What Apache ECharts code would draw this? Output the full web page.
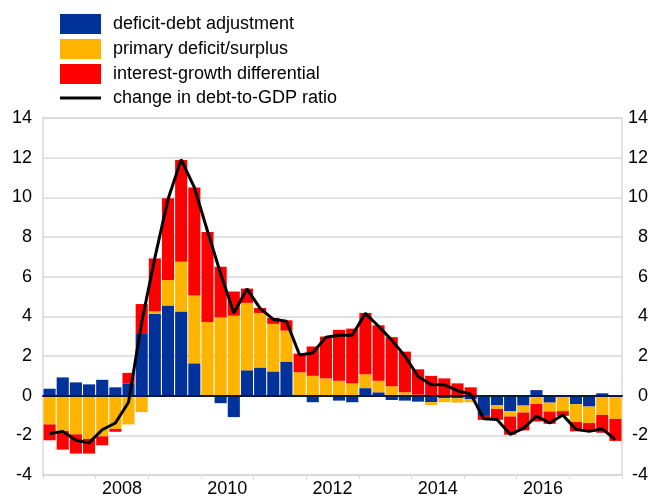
<!DOCTYPE html>
<html>
<head>
<meta charset="utf-8">
<script src="https://cdn.jsdelivr.net/npm/echarts@6/dist/echarts.min.js"></script>
<style>
html,body{margin:0;padding:0;background:#fff;}
#chart{width:661px;height:498px;}
</style>
</head>
<body>
<div id="chart"></div>
<script>
var years = ['2007','2008','2009','2010','2011','2012','2013','2014','2015','2016','2017'];
var seriesNames = ['deficit-debt adjustment','primary deficit/surplus','interest-growth differential','change in debt-to-GDP ratio'];

var deficitDebt = [0.35,0.92,0.67,0.57,0.8,0.42,0.62,3.15,4.13,4.55,4.25,1.63,-0.03,-0.38,-1.08,1.28,1.42,1.22,1.72,0.02,-0.33,-0.05,-0.25,-0.33,0.38,0.17,-0.22,-0.25,-0.3,-0.33,-0.13,-0.13,-0.18,-1.02,-0.47,-0.78,-0.5,0.28,-0.35,-0.05,-0.43,-0.55,0.12,-0.08];
var primary = [-1.45,-1.78,-1.95,-2.18,-2.05,-1.68,-1.45,-0.83,0.12,1.28,2.5,3.42,3.72,3.95,4.03,3.4,2.75,2.4,1.56,1.16,1.0,0.87,0.75,0.62,0.7,0.58,0.47,0.17,0.05,-0.14,-0.2,-0.22,-0.15,0.0,-0.2,-0.27,-0.35,-0.42,-0.45,-0.73,-0.9,-0.83,-0.97,-1.09];
var interestGrowth = [-0.8,-0.94,-0.97,-0.74,-0.45,-0.14,0.53,1.47,2.67,4.12,5.13,5.45,4.53,2.55,1.22,0.72,0.25,0.3,0.52,0.94,1.48,2.11,2.57,2.76,3.09,2.8,2.48,2.05,1.28,1.0,0.87,0.62,0.42,-0.2,-0.55,-0.92,-0.9,-0.88,-0.62,-0.24,-0.47,-0.45,-0.9,-1.11];
var debtChange = [-1.92,-1.8,-2.25,-2.38,-1.72,-1.38,-0.33,3.7,6.95,9.9,11.9,10.5,8.3,6.15,4.17,5.38,4.4,3.85,3.75,2.05,2.15,2.95,3.05,3.05,4.15,3.5,2.8,2.0,0.97,0.55,0.55,0.25,0.08,-1.17,-1.2,-1.95,-1.65,-1.03,-1.38,-0.97,-1.7,-1.8,-1.67,-2.22];

var quarters = [];
years.forEach(function(y){ ['Q1','Q2','Q3','Q4'].forEach(function(q){ quarters.push(y + q); }); });

var FONT = 'Liberation Sans, Arial, sans-serif';
var chart = echarts.init(document.getElementById('chart'), null, {renderer:'canvas'});

function barSeries(name, data, color) {
  return {
    name: name, type: 'bar', stack: 'total', data: data,
    xAxisIndex: 0, yAxisIndex: 0,
    barCategoryGap: '8%',
    itemStyle: { color: color },
    emphasis: { disabled: true }
  };
}

chart.setOption({
  animation: false,
  backgroundColor: '#ffffff',
  textStyle: { fontFamily: FONT },
  legend: {
    orient: 'vertical', left: 55, top: 9,
    itemWidth: 41, itemHeight: 20, itemGap: 5,
    symbolKeepAspect: true,
    textStyle: { fontSize: 18, color: '#000', fontFamily: FONT, padding: [0,0,0,7] },
    data: [
      { name: seriesNames[0], icon: 'rect' },
      { name: seriesNames[1], icon: 'rect' },
      { name: seriesNames[2], icon: 'rect' },
      { name: seriesNames[3], icon: 'path://M0,0L41,0L41,3L0,3Z', itemStyle: { color: '#000' } }
    ],
    selectedMode: false
  },
  grid: { left: 43, right: 39, top: 118, bottom: 20, show: true, borderColor: '#d9d9d9', borderWidth: 1.5 },
  xAxis: [
    {
      type: 'category', data: quarters, gridIndex: 0, z: 5,
      axisLine: { onZero: true, lineStyle: { color: '#0a1a3c', width: 2 } },
      axisTick: { show: false }, axisLabel: { show: false }, splitLine: { show: false }
    },
    {
      type: 'category', data: years, gridIndex: 0, position: 'bottom',
      axisLine: { onZero: false, lineStyle: { color: '#d9d9d9', width: 1.5 } },
      axisTick: { show: true, interval: 0, length: 4, lineStyle: { color: '#d9d9d9' } },
      axisLabel: {
        fontSize: 18, color: '#000', fontFamily: FONT, margin: 5,
        interval: function(index, value){ return parseInt(value, 10) % 2 === 0; }
      },
      splitLine: { show: false }
    }
  ],
  yAxis: [
    {
      type: 'value', min: -4, max: 14, interval: 2, position: 'left',
      axisLine: { show: false }, axisTick: { show: false },
      axisLabel: { fontSize: 18, color: '#000', fontFamily: FONT, margin: 11 },
      splitLine: { lineStyle: { color: '#d9d9d9', width: 1.5 } }
    },
    {
      type: 'value', min: -4, max: 14, interval: 2, position: 'right',
      axisLine: { show: false }, axisTick: { show: false },
      axisLabel: { fontSize: 18, color: '#000', fontFamily: FONT, margin: 26, align: 'right' },
      splitLine: { show: false }
    }
  ],
  series: [
    barSeries(seriesNames[0], deficitDebt, '#003299'),
    barSeries(seriesNames[1], primary, '#FFB400'),
    barSeries(seriesNames[2], interestGrowth, '#FF0000'),
    {
      name: seriesNames[3], type: 'line', data: debtChange,
      xAxisIndex: 0, yAxisIndex: 0, z: 6,
      symbol: 'none', showSymbol: false,
      lineStyle: { color: '#000000', width: 3 },
      itemStyle: { color: '#000000' },
      emphasis: { disabled: true }
    }
  ]
});
</script>
</body>
</html>
